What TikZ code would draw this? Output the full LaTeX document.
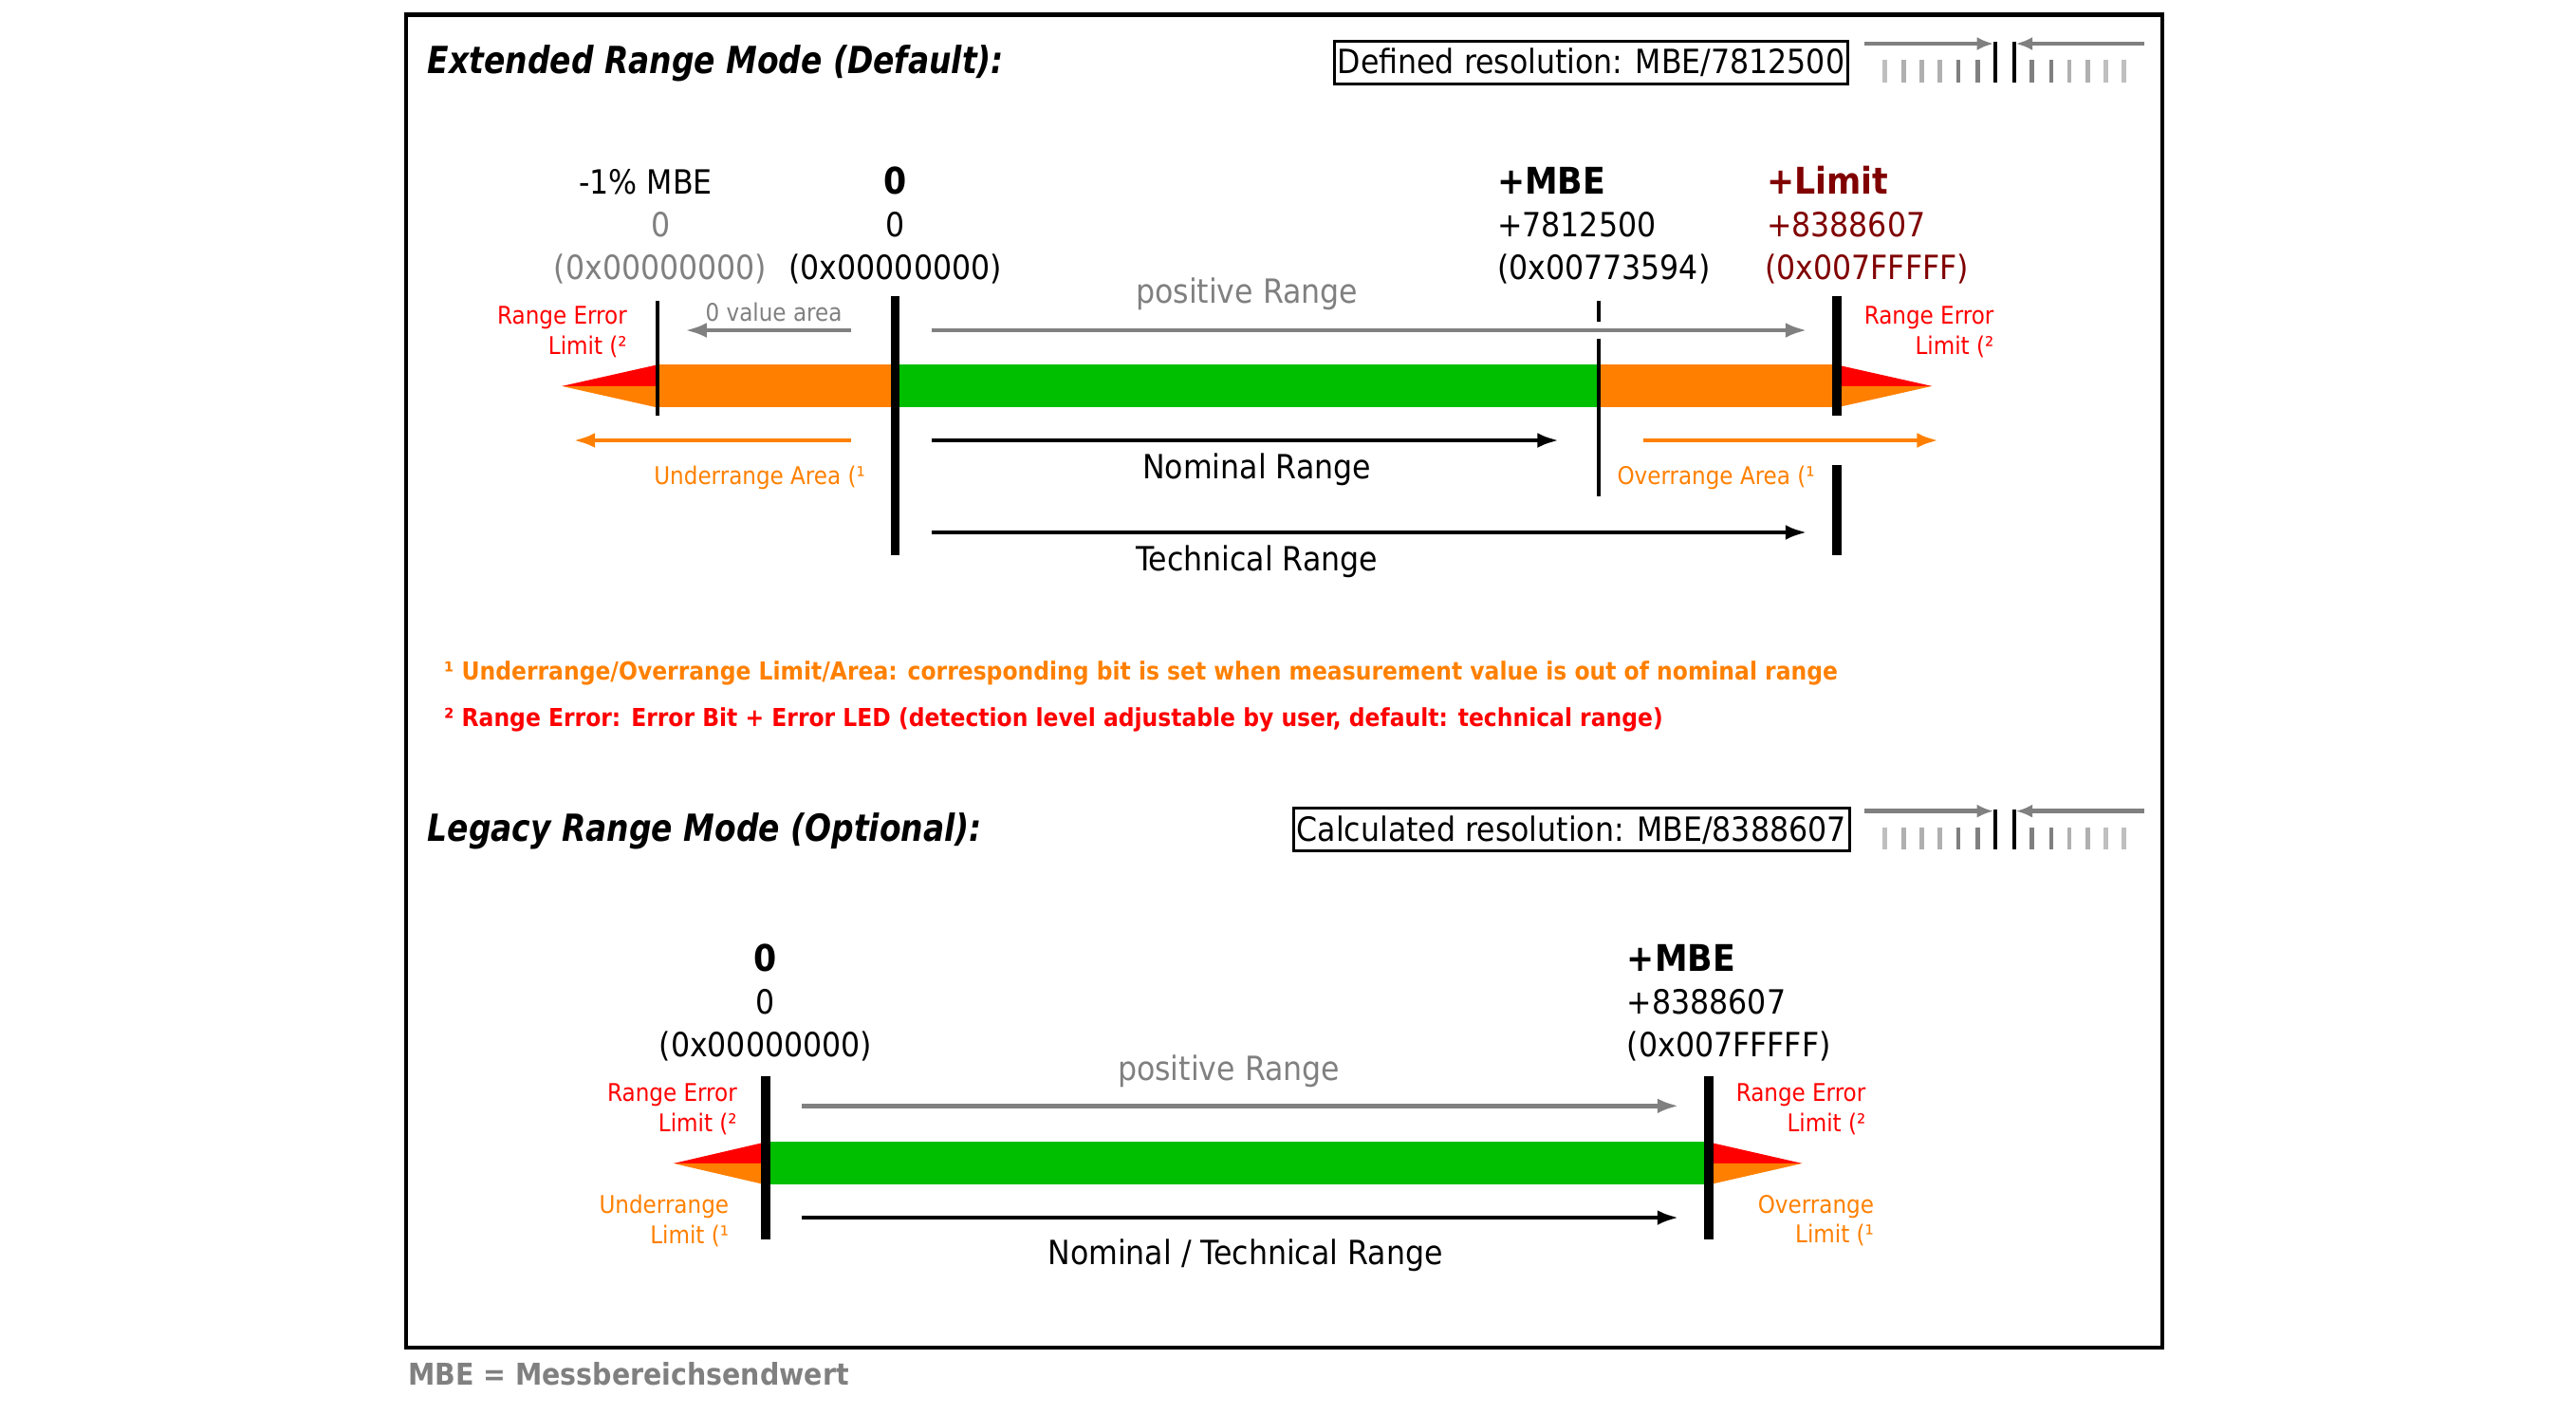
\documentclass[tikz,border=0pt]{standalone}
\usepackage{fontspec}
\setmainfont{DejaVu Sans Condensed}
\usepackage{tikz}
\usetikzlibrary{
  arrows.meta,
  calc,
  positioning
}
\definecolor{ovorange}{HTML}{FF8000}
\definecolor{errred}{HTML}{FF0000}
\definecolor{nomgreen}{HTML}{00BE00}
\definecolor{midgray}{HTML}{808080}
\definecolor{limred}{HTML}{800000}
\newcommand{\headtext}[1]{\scalebox{0.93}[1]{#1}}
\tikzset{
  val/.style={inner sep=0pt,anchor=base,font=\fontsize{10}{12}\selectfont},
  valb/.style={val,font=\fontsize{11}{13}\selectfont\bfseries},
  small/.style={inner sep=0pt,align=right,font=\fontsize{7.3}{8.9}\selectfont},
  note/.style={inner sep=0pt,anchor=base west,font=\fontsize{7.42}{9}\selectfont\bfseries},
  heading/.style={inner sep=0pt,anchor=base west,font=\fontsize{11.2}{13}\selectfont\bfseries\itshape},
  resbox/.style={draw,line width=0.9pt,inner sep=1pt,minimum height=12.8pt,font=\fontsize{10}{12}\selectfont},
  rangearrow/.style={line width=1.3pt,-{Latex[length=6.5pt,width=4.5pt]}},
  markthin/.style={line width=1.2pt},
  markthick/.style={line width=2.7pt}
}

\begin{document}
\begin{tikzpicture}[x=0.017315cm,y=-0.017315cm]
  \useasboundingbox (0,0) rectangle (1568,861);
  \draw[line width=1.2pt] (247,9) rectangle (1316,820);
  \node[heading] (ext title) at (260,45) {\headtext{Extended Range Mode (Default):}};
  \node[resbox] (ext res) at (968.5,38) {Defined resolution: MBE/7812500};
  \node[heading] (leg title) at (260,512) {\headtext{Legacy Range Mode (Optional):}};
  \node[resbox] (leg res) at (956.5,505) {Calculated resolution: MBE/8388607};
  \foreach \dy in {0,467} {
    \begin{scope}[shift={(0,\dy)}]
      \foreach \x/\g in {1147/25,1158.6/31,1169.6/31,1181/31,1192/50,1203.6/50,
                         1237/50,1248.6/50,1259.6/31,1271/31,1282/25,1293/25}
        \draw[line width=1.4pt,black!\g] (\x,36.4) -- (\x,50);
      \draw[line width=1.1pt] (1214.6,25.4) -- (1214.6,50);
      \draw[line width=1.1pt] (1226,25.4) -- (1226,50);
      \coordinate (icl a) at (1135,26.6);
      \coordinate (icl b) at (1213.5,26.6);
      \coordinate (icr a) at (1305,26.6);
      \coordinate (icr b) at (1227,26.6);
      \draw[line width=1.3pt,midgray,-{Latex[length=5pt,width=4pt]}] (icl a) -- (icl b);
      \draw[line width=1.3pt,midgray,-{Latex[length=5pt,width=4pt]}] (icr a) -- (icr b);
    \end{scope}
  }

  \node[val] (lo mbe) at (393,118) {-1\% MBE};
  \node[val,midgray] (lo dec) at (402,144) {0};
  \node[val,midgray] (lo hex) at (402,170) {(0x00000000)};
  \node[valb] (zero) at (545,118) {0};
  \node[val] (zero dec) at (545,144) {0};
  \node[val] (zero hex) at (545,170) {(0x00000000)};
  \node[valb,anchor=base west] (mbe) at (911,118) {+MBE};
  \node[val,anchor=base west] (mbe dec) at (911,144) {+7812500};
  \node[val,anchor=base west] (mbe hex) at (911,170) {(0x00773594)};
  \node[valb,anchor=base west,limred] (lim) at (1075,118) {+Limit};
  \node[val,anchor=base west,limred] (lim dec) at (1075,144) {+8388607};
  \node[val,anchor=base west,limred] (lim hex) at (1074,170) {(0x007FFFFF)};

  \fill[ovorange] (400,222) rectangle (545,248);
  \fill[nomgreen] (545,222) rectangle (973,248);
  \fill[ovorange] (973,222) rectangle (1118,248);
  \fill[errred] (400,222) -- (342,235) -- (400,235) -- cycle;
  \fill[ovorange] (400,235) -- (342,235) -- (400,248) -- cycle;
  \fill[errred] (1118,222) -- (1176,235) -- (1118,235) -- cycle;
  \fill[ovorange] (1118,235) -- (1176,235) -- (1118,248) -- cycle;
  \draw[markthin] (400,183) -- (400,253);
  \draw[markthick] (545,180) -- (545,338);
  \draw[markthin] (973,183) -- (973,196);
  \draw[markthin] (973,206) -- (973,302);
  \draw[markthick] (1118,180) -- (1118,253);
  \draw[markthick] (1118,283) -- (1118,338);

  \node[small,errred,anchor=east] (err lo) at (382,202) {Range Error\\Limit (²};
  \node[small,errred,anchor=east] (err hi) at (1214,202) {Range Error\\Limit (²};
  \node[small,midgray] (zero area) at (471,190) {0 value area};
  \node[val,midgray,anchor=center] (pos) at (759,179) {positive Range};
  \coordinate (zero area a) at (518,201);
  \coordinate (zero area b) at (417,201);
  \coordinate (pos a) at (567,201);
  \coordinate (pos b) at (1100,201);
  \draw[rangearrow,midgray] (zero area a) -- (zero area b);
  \draw[rangearrow,midgray] (pos a) -- (pos b);

  \coordinate (under a) at (518,268);
  \coordinate (under b) at (349,268);
  \coordinate (nom a) at (567,268);
  \coordinate (nom b) at (949,268);
  \coordinate (over a) at (1000,268);
  \coordinate (over b) at (1180,268);
  \coordinate (tech a) at (567,324);
  \coordinate (tech b) at (1100,324);
  \draw[rangearrow,ovorange] (under a) -- (under b);
  \draw[rangearrow] (nom a) -- (nom b);
  \draw[rangearrow,ovorange] (over a) -- (over b);
  \draw[rangearrow] (tech a) -- (tech b);
  \node[small,ovorange,anchor=east] (under area) at (527,291) {Underrange Area (¹};
  \node[val,anchor=center] (nom) at (765,286) {Nominal Range};
  \node[small,ovorange,anchor=west] (over area) at (984,291) {Overrange Area (¹};
  \node[val,anchor=center] (tech) at (765,342) {Technical Range};

  \node[note,ovorange] (fn one) at (270,414) {¹ Underrange/Overrange Limit/Area: corresponding bit is set when measurement value is out of nominal range};
  \node[note,errred] (fn two) at (270,442) {² Range Error: Error Bit + Error LED (detection level adjustable by user, default: technical range)};

  \node[valb] (lzero) at (466,591) {0};
  \node[val] (lzero dec) at (466,617) {0};
  \node[val] (lzero hex) at (466,643) {(0x00000000)};
  \node[valb,anchor=base west] (lmbe) at (990,591) {+MBE};
  \node[val,anchor=base west] (lmbe dec) at (990,617) {+8388607};
  \node[val,anchor=base west] (lmbe hex) at (990,643) {(0x007FFFFF)};
  \node[val,midgray,anchor=center] (lpos) at (748,652) {positive Range};

  \fill[nomgreen] (466,695) rectangle (1040,721);
  \fill[errred] (466,695) -- (410,708) -- (466,708) -- cycle;
  \fill[ovorange] (466,708) -- (410,708) -- (466,721) -- cycle;
  \fill[errred] (1040,695) -- (1097,708) -- (1040,708) -- cycle;
  \fill[ovorange] (1040,708) -- (1097,708) -- (1040,721) -- cycle;
  \draw[markthick] (466,655) -- (466,754);
  \draw[markthick] (1040,655) -- (1040,754);

  \node[small,errred,anchor=east] (lerr lo) at (449,675) {Range Error\\Limit (²};
  \node[small,ovorange,anchor=east] (lunder) at (444,743) {Underrange\\Limit (¹};
  \node[small,errred,anchor=east] (lerr hi) at (1136,675) {Range Error\\Limit (²};
  \node[small,ovorange,anchor=east] (lover) at (1141,743) {Overrange\\Limit (¹};
  \coordinate (lpos a) at (488,673);
  \coordinate (lpos b) at (1022,673);
  \coordinate (lnom a) at (488,741);
  \coordinate (lnom b) at (1022,741);
  \draw[rangearrow,midgray] (lpos a) -- (lpos b);
  \draw[rangearrow] (lnom a) -- (lnom b);
  \node[val,anchor=center] (lnom) at (758,764) {Nominal / Technical Range};

  \node[inner sep=0pt,anchor=base west,font=\fontsize{9}{11}\selectfont\bfseries,midgray] (mbe def) at (248,843) {MBE = Messbereichsendwert};
\end{tikzpicture}
\end{document}
